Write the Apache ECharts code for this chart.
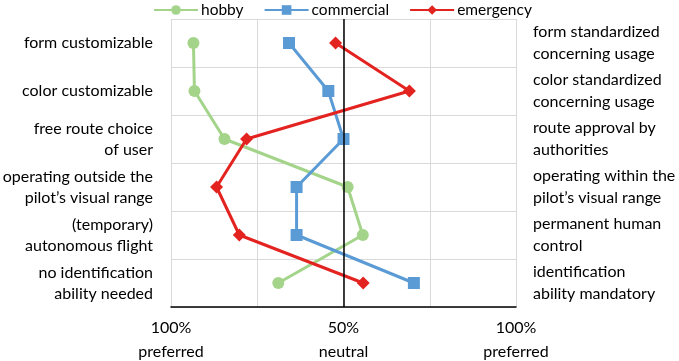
<!DOCTYPE html>
<html>
<head>
<meta charset="utf-8">
<script src="https://cdn.jsdelivr.net/npm/echarts@6/dist/echarts.min.js"></script>
<style>html,body{margin:0;padding:0;background:#fff;}#c{width:679px;height:361px;}</style>
</head>
<body>
<div id="c"></div>
<script>
const leftLabels = ["form customizable", "color customizable", "free route choice\nof user", "operating outside the\npilot’s visual range", "(temporary)\nautonomous flight", "no identification\nability needed"];
const rightLabels = ["form standardized\nconcerning usage", "color standardized\nconcerning usage", "route approval by\nauthorities", "operating within the\npilot’s visual range", "permanent human\ncontrol", "identification\nability mandatory"];
const hobby = [6.5, 6.8, 15.5, 51.2, 55.6, 31.1];
const commercial = [34.2, 45.6, 50.0, 36.4, 36.4, 70.4];
const emergency = [47.7, 69.1, 21.9, 13.2, 19.8, 55.7];
const xTickLabels = {0: "100%\npreferred", 50: "50%\nneutral", 100: "100%\npreferred"};

const font = "Lato";
const chart = echarts.init(document.getElementById('c'), null, {renderer: 'canvas'});
function mk(name, data, color, symbol, size, extra) {
  return Object.assign({
    name, type: 'line', data, yAxisIndex: 0,
    symbol, symbolSize: size,
    lineStyle: {color, width: 3},
    itemStyle: {color},
    emphasis: {disabled: true},
    animation: false
  }, extra || {});
}
chart.setOption({
  animation: false,
  legend: {
    left: 148, top: -3,
    itemWidth: 44, itemHeight: 12, itemGap: 20,
    textStyle: {fontFamily: font, fontSize: 15.5, color: '#000', padding: [0, 0, 0, -2]},
    data: ['hobby', 'commercial', 'emergency']
  },
  grid: {left: 171, right: 163, top: 19, bottom: 54, containLabel: false, outerBoundsMode: 'none'},
  xAxis: {
    type: 'value', min: 0, max: 100, interval: 25,
    axisLine: {show: true, lineStyle: {color: '#000', width: 1.5}},
    axisTick: {show: false},
    splitLine: {show: true, lineStyle: {color: '#d9d9d9', width: 1}},
    axisLabel: {
      margin: 9, lineHeight: 24,
      fontFamily: font, fontSize: 16, color: '#000',
      formatter: v => xTickLabels[v] || ''
    }
  },
  yAxis: [{
    type: 'category', data: leftLabels, inverse: true, position: 'left',
    axisLine: {show: false}, axisTick: {show: false},
    splitLine: {show: true, lineStyle: {color: '#d9d9d9', width: 1}},
    axisLabel: {margin: 18, lineHeight: 21, fontFamily: font, fontSize: 16, color: '#000'}
  }, {
    type: 'category', data: rightLabels, inverse: true, position: 'right',
    axisLine: {show: false}, axisTick: {show: false},
    splitLine: {show: false},
    axisLabel: {margin: 17, lineHeight: 22, fontFamily: font, fontSize: 16, color: '#000'}
  }],
  series: [
    mk('hobby', hobby, '#a3d48a', 'circle', 12, {
      markLine: {
        silent: true, symbol: 'none', label: {show: false},
        lineStyle: {color: '#000', width: 1.5, type: 'solid'},
        data: [{xAxis: 50}]
      }
    }),
    mk('commercial', commercial, '#5b9bd5', 'rect', 12),
    mk('emergency', emergency, '#e3231f', 'diamond', 13)
  ]
});
</script>
</body>
</html>
